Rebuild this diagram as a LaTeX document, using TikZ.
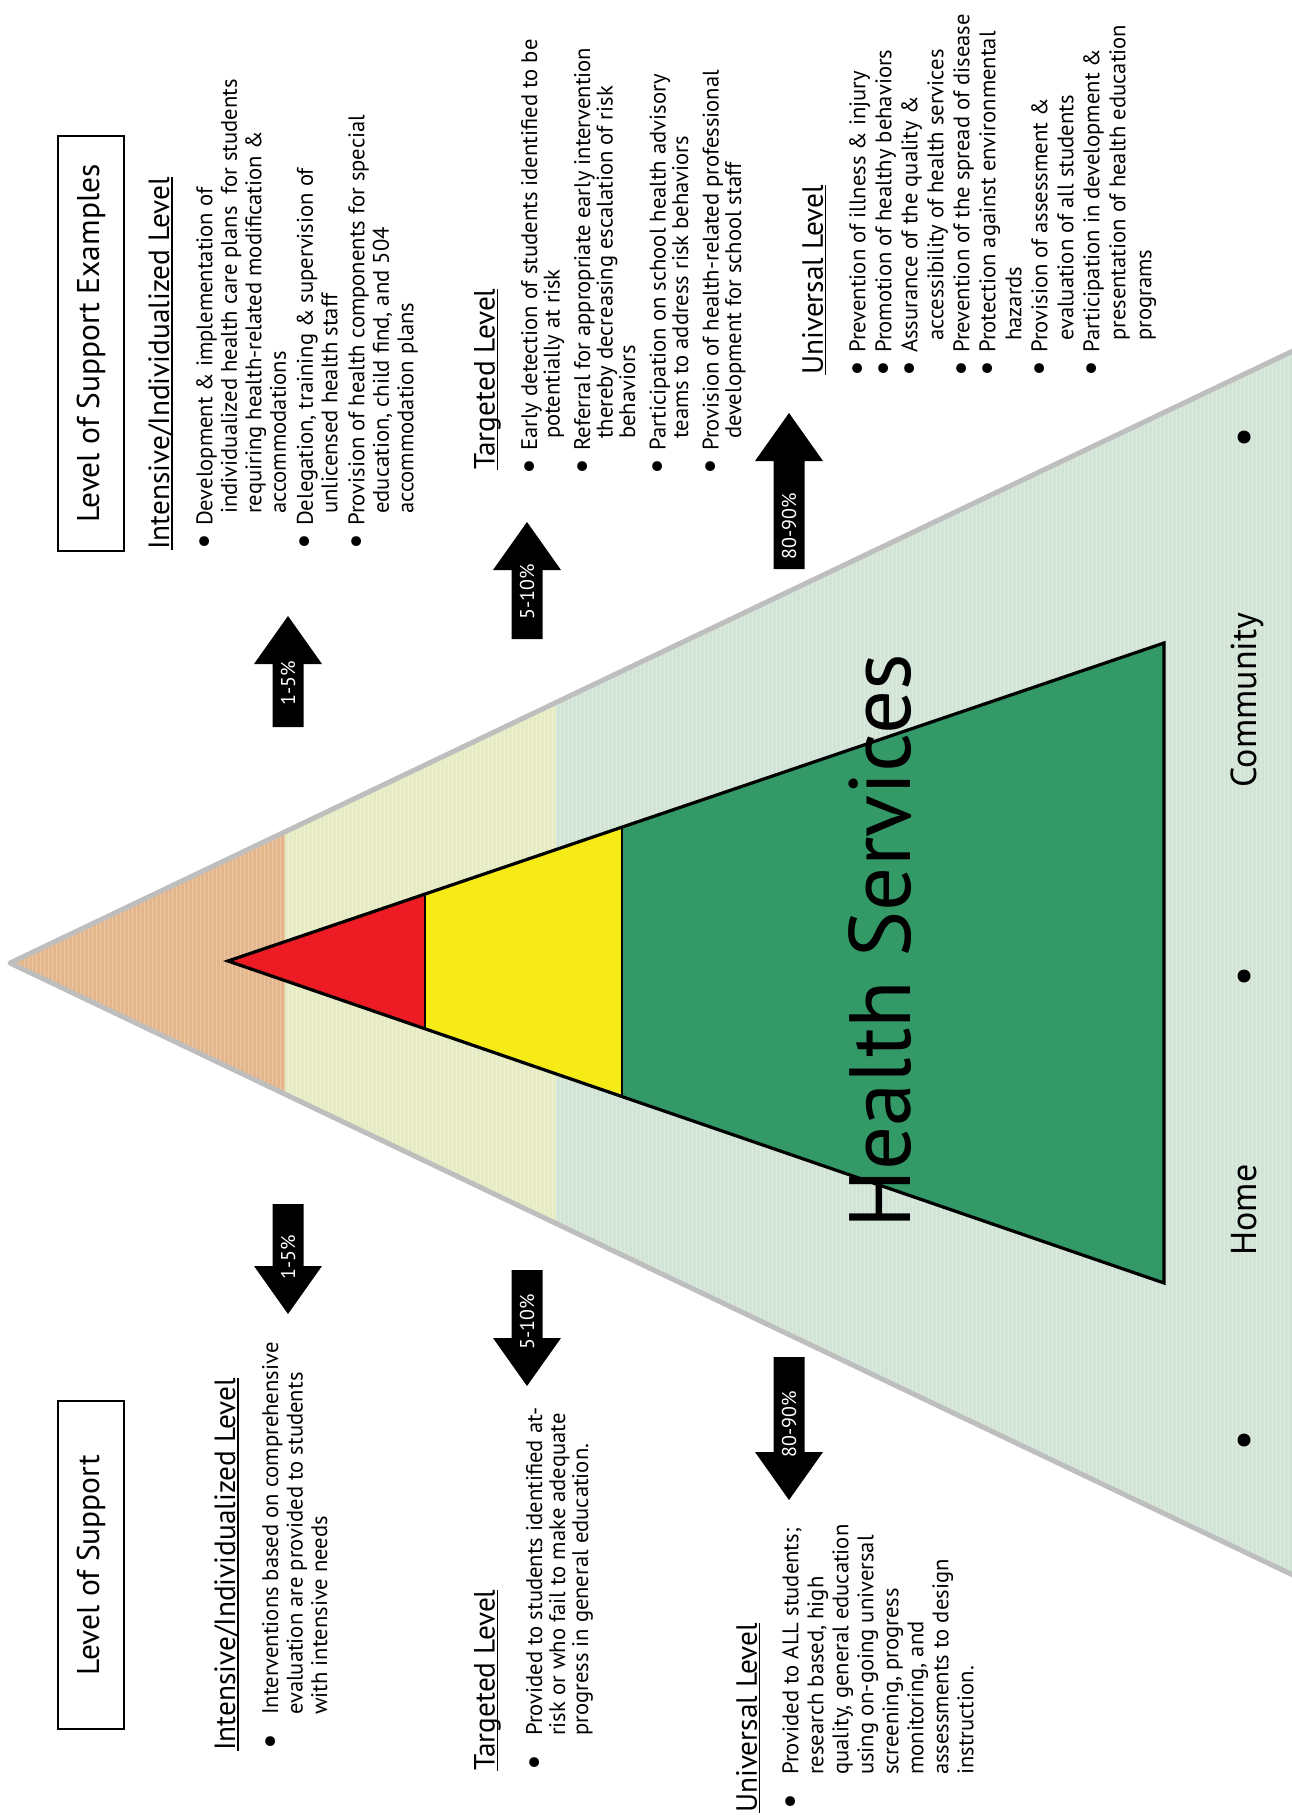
\documentclass[tikz,border=0pt]{standalone}
\usepackage{fontspec}
\usepackage{graphicx}
\setmainfont{PT Sans}
\usetikzlibrary{backgrounds}

\definecolor{tierRed}{HTML}{ED1C24}
\definecolor{tierYellow}{HTML}{F6EB16}
\definecolor{tierGreen}{HTML}{339966}
\definecolor{zoneOrange}{HTML}{E3B68B}
\definecolor{zoneYellow}{HTML}{E7EBC4}
\definecolor{zoneGreen}{HTML}{D1E4D6}
\definecolor{coneEdge}{HTML}{BEBEBE}

\tikzstyle{title}=[draw, line width=2.8pt, rotate=90, minimum height=66pt, inner sep=0pt, font=\fontsize{31.5}{36}\selectfont]
\tikzstyle{lvl}=[rotate=90, anchor=north west, inner sep=0pt, font=\fontsize{29.3}{34}\selectfont]
\tikzstyle{items}=[rotate=90, anchor=north west, inner sep=0pt, align=left, font=\fontsize{22.6}{24.5}\selectfont]
\tikzstyle{pct}=[rotate=90, inner sep=0pt, text=white, font=\fontsize{20}{24}\selectfont]
\tikzstyle{place}=[rotate=90, anchor=base, inner sep=0pt, font=\fontsize{36}{42}\selectfont]
\tikzstyle{hub}=[rotate=90, anchor=base west, inner sep=0pt, font=\fontsize{87}{100}\selectfont]
\tikzstyle{spot}=[circle, fill=black, inner sep=0pt, minimum size=13pt]
\tikzstyle{arrowbody}=[fill=black]

\newcommand{\shaftW}{15.5}
\newcommand{\headW}{34}
\newcommand{\headL}{48}
\newcommand{\hul}[1]{\setbox0=\hbox{#1}\rlap{\rule[-3.5pt]{\wd0}{1.4pt}}\box0}
\newcommand{\itm}[1]{\makebox[#1][l]{\raisebox{-2.8pt}{\scalebox{1.55}{\textbullet}}}}
\newcommand{\blockarrow}[6]{%
  \fill[arrowbody] (#2-\shaftW,#3) -- (#2-\shaftW,{#4+\headL*sign(#3-#4)}) -- (#2-\headW,{#4+\headL*sign(#3-#4)}) -- (#2,#4) -- (#2+\headW,{#4+\headL*sign(#3-#4)}) -- (#2+\shaftW,{#4+\headL*sign(#3-#4)}) -- (#2+\shaftW,#3) -- cycle;
  \node[pct] (#1) at (#2,#5) {#6};}

\begin{document}
\begin{tikzpicture}[x=1pt, y=-1pt]
	\useasboundingbox (0,0) rectangle (1291,1815);

	%The big cone
	\coordinate (apex) at (10,963);
	\coordinate (coneT) at (1300,347.6);
	\coordinate (coneB) at (1300,1578.4);
	\begin{scope}
		\clip (apex) -- (coneT) -- (coneB) -- cycle;
		\fill[zoneOrange] (0,300) rectangle (285,1600);
		\fill[zoneYellow] (285,300) rectangle (556,1600);
		\fill[zoneGreen] (556,300) rectangle (1300,1600);
		\draw[white, opacity=0.25, line width=0.6pt, step=4] (0,300) grid (1300,1600);
	\end{scope}
	\draw[coneEdge, line width=5pt, line join=round] (coneT) -- (apex) -- (coneB);

	%The tiers
	\coordinate (tip) at (228,961);
	\coordinate (baseT) at (1164,643);
	\coordinate (baseB) at (1164,1283);
	\fill[tierRed] (tip) -- (425,894.1) -- (425,1027.9) -- cycle;
	\fill[tierYellow] (425,894.1) -- (622,827.1) -- (622,1094.9) -- (425,1027.9) -- cycle;
	\fill[tierGreen] (622,827.1) -- (baseT) -- (baseB) -- (622,1094.9) -- cycle;
	\draw[line width=1.5pt] (425,894.1) -- (425,1027.9) (622,827.1) -- (622,1094.9);
	\draw[line width=3.2pt] (tip) -- (baseT) -- (baseB) -- cycle;

	\node[hub] (hs) at (910,1229) {Health Services};

	%Home and community
	\node[spot] (d1) at (1244,437) {};
	\node[spot] (d2) at (1244,976) {};
	\node[spot] (d3) at (1244,1440) {};
	\node[place] (home) at (1256,1210) {Home};
	\node[place] (comm) at (1256,700) {Community};

	%The arrows
	\blockarrow{upA}{288}{727}{616}{683}{1-5\%}
	\blockarrow{upB}{527}{639}{522}{592}{5-10\%}
	\blockarrow{upC}{789}{569}{413}{526}{80-90\%}
	\blockarrow{dnA}{288}{1204}{1314}{1257}{1-5\%}
	\blockarrow{dnB}{527}{1270}{1386}{1322}{5-10\%}
	\blockarrow{dnC}{789}{1357}{1500}{1424}{80-90\%}

	%The examples side
	\node[title, minimum width=415pt] (examples) at (91,343.5) {Level of Support Examples};
	\node[lvl] (hIntR) at (148,550) {\hul{Intensive/Individualized Level}};
	\node[items] (iIntR) at (196,550) {\itm{24pt}Development \& implementation of\\
		\hspace*{36pt}individualized health care plans\ \ for students\\
		\hspace*{36pt}requiring health-related modification \&\\
		\hspace*{36pt}accommodations\\[2.5pt]
		\itm{24pt}Delegation, training \& supervision of\\
		\hspace*{36pt}unlicensed health staff\\[2.5pt]
		\itm{24pt}Provision of health components for special\\
		\hspace*{36pt}education, child find, and 504\\
		\hspace*{36pt}accommodation plans};
	\node[lvl] (hTarR) at (474,470) {\hul{Targeted Level}};
	\node[items, font=\fontsize{22.6}{22.5}\selectfont] (iTarR) at (521,475) {\itm{24pt}Early detection of students identified to be\\
		\hspace*{36pt}potentially at risk\\[8pt]
		\itm{24pt}Referral for appropriate early intervention\\
		\hspace*{36pt}thereby decreasing escalation of risk\\
		\hspace*{36pt}behaviors\\[8pt]
		\itm{24pt}Participation on school health advisory\\
		\hspace*{36pt}teams to address risk behaviors\\[8pt]
		\itm{24pt}Provision of health-related professional\\
		\hspace*{36pt}development for school staff};
	\node[lvl] (hUniR) at (802,375) {\hul{Universal Level}};
	\node[items, font=\fontsize{22.6}{26}\selectfont] (iUniR) at (849,377) {\itm{24pt}Prevention of illness \& injury\\
		\itm{24pt}Promotion of healthy behaviors\\
		\itm{24pt}Assurance of the quality \&\\
		\hspace*{36pt}accessibility of health services\\
		\itm{24pt}Prevention of the spread of disease\\
		\itm{24pt}Protection against environmental\\
		\hspace*{36pt}hazards\\
		\itm{24pt}Provision of assessment \&\\
		\hspace*{36pt}evaluation of all students\\
		\itm{24pt}Participation in development \&\\
		\hspace*{36pt}presentation of health education\\
		\hspace*{36pt}programs};

	%The support side
	\node[title, minimum width=328pt] (support) at (91,1565) {Level of Support};
	\node[lvl] (hIntL) at (214,1751) {\hul{Intensive/Individualized Level}};
	\node[items] (iIntL) at (262,1750) {\itm{35pt}Interventions based on comprehensive\\
		\hspace*{35pt}evaluation are provided to students\\
		\hspace*{35pt}with intensive needs};
	\node[lvl] (hTarL) at (474,1771) {\hul{Targeted Level}};
	\node[items, font=\fontsize{22.6}{23}\selectfont] (iTarL) at (526,1771) {\itm{35pt}Provided to students identified at-\\
		\hspace*{35pt}risk or who fail to make adequate\\
		\hspace*{35pt}progress in general education.};
	\node[lvl] (hUniL) at (736,1813) {\hul{Universal Level}};
	\node[items, font=\fontsize{22.6}{25}\selectfont] (iUniL) at (782,1810) {\itm{35pt}Provided to ALL students;\\
		\hspace*{35pt}research based, high\\
		\hspace*{35pt}quality, general education\\
		\hspace*{35pt}using on-going universal\\
		\hspace*{35pt}screening, progress\\
		\hspace*{35pt}monitoring, and\\
		\hspace*{35pt}assessments to design\\
		\hspace*{35pt}instruction.};
\end{tikzpicture}
\end{document}
